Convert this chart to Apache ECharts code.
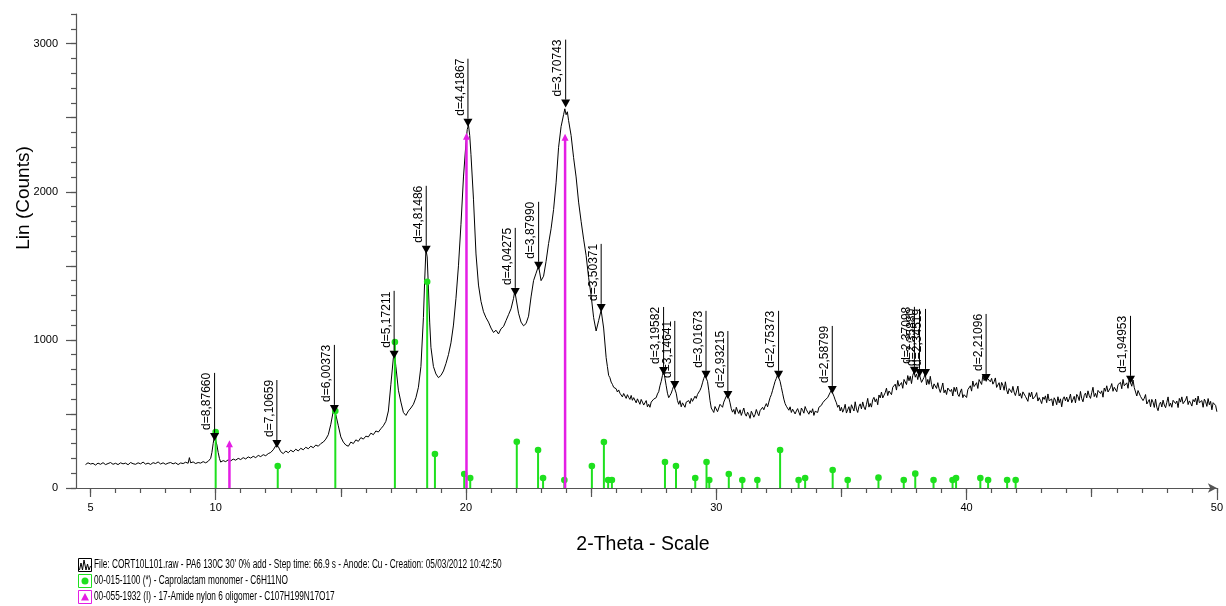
<!DOCTYPE html>
<html><head><meta charset="utf-8">
<script src="https://cdn.jsdelivr.net/npm/echarts@6/dist/echarts.min.js"></script>
<style>html,body{margin:0;padding:0;background:#fff}#c{width:1226px;height:606px}</style>
</head><body><div id="c"></div>
<script>
const scanA = [[4.8,158],[4.9,170],[5.0,162],[5.1,166],[5.2,155],[5.3,168],[5.4,160],[5.5,171],[5.6,158],[5.7,165],[5.8,172],[5.9,160],[6.0,167],[6.1,158],[6.2,170],[6.3,163],[6.4,168],[6.5,157],[6.6,172],[6.7,164],[6.8,160],[6.9,170],[7.0,163],[7.1,175],[7.2,161],[7.3,168],[7.4,159],[7.5,171],[7.6,165],[7.7,176],[7.8,162],[7.9,170],[8.0,160],[8.1,168],[8.2,172],[8.3,163],[8.4,170],[8.5,158],[8.6,169],[8.7,165],[8.8,174],[8.9,167],[8.95,205],[9.0,170],[9.1,176],[9.2,165],[9.3,172],[9.4,168],[9.5,178],[9.6,170],[9.7,180],[9.8,200],[9.85,240],[9.9,300],[9.95,352],[10.0,340],[10.05,290],[10.1,240],[10.15,200],[10.2,175],[10.3,185],[10.4,178],[10.5,190],[10.6,183],[10.7,195],[10.8,188],[10.9,200],[11.0,192],[11.1,205],[11.2,196],[11.3,210],[11.4,202],[11.5,214],[11.6,205],[11.7,220],[11.8,212],[11.9,225],[12.0,218],[12.1,232],[12.2,240],[12.3,258],[12.4,285],[12.45,292],[12.5,280],[12.6,245],[12.7,232],[12.8,250],[12.9,238],[13.0,255],[13.1,244],[13.2,262],[13.3,250],[13.4,268],[13.5,258],[13.6,275],[13.7,265],[13.8,282],[13.9,272],[14.0,290],[14.1,282],[14.2,300],[14.3,310],[14.4,330],[14.5,360],[14.6,430],[14.7,520],[14.75,530],[14.8,495],[14.9,420]];
const scanB = [[15.0,345],[15.1,310],[15.2,290],[15.3,282],[15.4,310],[15.5,300],[15.6,325],[15.7,315],[15.8,340],[15.9,330],[16.0,350],[16.1,345],[16.2,370],[16.3,360],[16.4,385],[16.5,378],[16.6,400],[16.7,420],[16.8,450],[16.9,520],[17.0,700],[17.1,880],[17.15,895],[17.2,820],[17.3,660],[17.4,580],[17.5,510],[17.6,490],[17.7,520],[17.8,540],[17.9,565],[18.0,610],[18.1,680],[18.2,820],[18.3,1150],[18.35,1400],[18.4,1610],[18.45,1560],[18.5,1350],[18.55,1120],[18.6,950],[18.7,820],[18.8,770],[18.9,745],[19.0,760],[19.1,790],[19.2,840],[19.3,900],[19.4,980],[19.5,1100],[19.6,1280],[19.7,1500],[19.8,1780],[19.9,2100],[20.0,2330],[20.05,2420],[20.1,2450],[20.15,2380],[20.2,2250],[20.3,1950],[20.4,1580],[20.5,1370],[20.6,1260],[20.7,1190],[20.8,1150],[20.9,1120],[21.0,1080],[21.1,1050],[21.2,1065],[21.3,1040],[21.4,1075],[21.5,1090],[21.6,1130],[21.7,1170],[21.8,1210],[21.9,1280],[21.95,1330],[22.0,1320],[22.1,1180],[22.2,1120],[22.3,1095],[22.4,1110],[22.5,1160],[22.6,1290],[22.7,1400],[22.8,1450],[22.9,1500],[23.0,1400],[23.1,1430],[23.2,1530],[23.3,1650],[23.4,1750],[23.5,1880],[23.6,2060],[23.7,2300],[23.8,2440],[23.9,2520],[23.95,2560],[24.0,2520],[24.05,2540],[24.1,2480],[24.2,2380],[24.3,2230],[24.4,2100],[24.5,1930],[24.6,1800],[24.7,1680],[24.8,1570],[24.9,1420]];
const scanC = [[25.0,1300],[25.1,1150],[25.2,1060],[25.3,1130],[25.4,1200],[25.5,1080],[25.6,880],[25.65,820],[25.7,760],[25.75,745],[25.8,715],[25.85,700],[25.9,680],[25.95,690],[26.0,670],[26.05,648],[26.1,662],[26.15,640],[26.2,652],[26.25,615],[26.3,638],[26.35,625],[26.4,605],[26.45,630],[26.5,612],[26.55,598],[26.6,625],[26.65,592],[26.7,610],[26.75,600],[26.8,575],[26.85,602],[26.9,590],[26.95,565],[27.0,598],[27.05,580],[27.1,560],[27.15,575],[27.2,590],[27.25,548],[27.3,565],[27.35,545],[27.4,580],[27.45,570],[27.5,600],[27.55,590],[27.6,610],[27.65,635],[27.7,650],[27.75,690],[27.8,720],[27.85,760],[27.9,790],[27.95,740],[28.0,690],[28.05,640],[28.1,610],[28.15,625],[28.2,640],[28.25,665],[28.3,690],[28.35,680],[28.4,640],[28.45,590],[28.5,565],[28.55,590],[28.6,548],[28.65,575],[28.7,560],[28.75,545],[28.8,580],[28.85,568],[28.9,590],[28.95,570],[29.0,605],[29.05,585],[29.1,598],[29.15,620],[29.2,605],[29.25,632],[29.3,640],[29.35,660],[29.4,680],[29.45,710],[29.5,740],[29.55,760],[29.6,765],[29.65,720],[29.7,660],[29.75,590],[29.8,540],[29.85,525],[29.9,510],[29.95,550],[30.0,545],[30.05,515],[30.1,525],[30.15,565],[30.2,560],[30.25,545],[30.3,580],[30.35,600],[30.4,620],[30.45,630],[30.5,610],[30.55,575],[30.6,535],[30.65,512],[30.7,530],[30.75,498],[30.8,545],[30.85,520],[30.9,503],[30.95,528],[31.0,490],[31.05,515],[31.1,540],[31.15,500],[31.2,485],[31.25,512],[31.3,495],[31.35,470],[31.4,518],[31.45,500],[31.5,478],[31.55,496],[31.6,530],[31.65,505],[31.7,488],[31.75,522],[31.8,515],[31.85,545],[31.9,528],[31.95,552],[32.0,570],[32.05,548],[32.1,580],[32.15,610],[32.2,630],[32.25,660],[32.3,690],[32.35,720],[32.4,740],[32.45,765],[32.5,765],[32.55,720],[32.6,680],[32.65,640],[32.7,600],[32.75,570],[32.8,552],[32.85,540],[32.9,525],[32.95,548],[33.0,510],[33.05,532],[33.1,545],[33.15,500],[33.2,520],[33.25,536],[33.3,512],[33.35,490],[33.4,540],[33.45,525],[33.5,505],[33.55,550],[33.6,528],[33.65,540],[33.7,498],[33.75,522],[33.8,508],[33.85,535],[33.9,490],[33.95,518],[34.0,530],[34.05,510],[34.1,545],[34.15,535],[34.2,558],[34.25,575],[34.3,565],[34.35,595],[34.4,590],[34.45,610],[34.5,620],[34.55,645],[34.6,660],[34.65,650],[34.7,620],[34.75,595],[34.8,575],[34.85,545],[34.9,560],[34.95,520]];
const scanD = [[35.0,545],[35.05,512],[35.1,533],[35.15,565],[35.2,506],[35.25,528],[35.3,549],[35.35,506],[35.4,562],[35.45,549],[35.5,520],[35.55,582],[35.6,533],[35.65,510],[35.7,551],[35.75,568],[35.8,534],[35.85,581],[35.9,547],[35.95,529],[36.0,565],[36.05,605],[36.1,546],[36.15,571],[36.2,546],[36.25,596],[36.3,612],[36.35,582],[36.4,602],[36.45,562],[36.5,628],[36.55,608],[36.6,648],[36.65,608],[36.7,604],[36.75,644],[36.8,674],[36.85,624],[36.9,655],[36.95,645],[37.0,630],[37.05,680],[37.1,671],[37.15,701],[37.2,661],[37.25,726],[37.3,687],[37.35,682],[37.4,712],[37.45,673],[37.5,733],[37.55,723],[37.6,698],[37.65,759],[37.7,724],[37.75,754],[37.8,705],[37.85,760],[37.9,785],[37.95,748],[38.0,770],[38.05,732],[38.1,775],[38.15,776],[38.2,713],[38.25,730],[38.3,747],[38.35,774],[38.4,696],[38.45,733],[38.5,700],[38.55,754],[38.6,699],[38.65,668],[38.7,703],[38.75,712],[38.8,672],[38.85,711],[38.9,671],[38.95,645],[39.0,675],[39.05,709],[39.1,643],[39.15,662],[39.2,631],[39.25,675],[39.3,688],[39.35,652],[39.4,666],[39.45,621],[39.5,680],[39.55,651],[39.6,681],[39.65,632],[39.7,618],[39.75,648],[39.8,669],[39.85,610],[39.9,630],[39.95,623],[40.0,611],[40.05,664],[40.1,657],[40.15,690],[40.2,654],[40.25,722],[40.3,685],[40.35,681],[40.4,711],[40.45,672],[40.5,732],[40.55,723],[40.6,699],[40.65,759],[40.7,725],[40.75,747],[40.8,735],[40.85,737],[40.9,750],[40.95,717],[41.0,740],[41.05,701],[41.1,717],[41.15,743],[41.2,679],[41.25,695],[41.3,711],[41.35,662],[41.4,713],[41.45,694],[41.5,660],[41.55,717],[41.6,663],[41.65,635],[41.7,671],[41.75,683],[41.8,644],[41.85,686],[41.9,647],[41.95,624],[42.0,655],[42.05,688],[42.1,621],[42.15,638],[42.2,606],[42.25,649],[42.3,657],[42.35,619],[42.4,632],[42.45,585],[42.5,643],[42.55,615],[42.6,648],[42.65,601],[42.7,589],[42.75,621],[42.8,644],[42.85,587],[42.9,610],[42.95,592],[43.0,570],[43.05,614],[43.1,598],[43.15,622],[43.2,576],[43.25,635],[43.3,589],[43.35,577],[43.4,601],[43.45,555],[43.5,609],[43.55,593],[43.6,562],[43.65,616],[43.7,575],[43.75,602],[43.8,548],[43.85,600],[43.9,616],[43.95,588],[44.0,614],[44.05,581],[44.1,602],[44.15,634],[44.2,576],[44.25,597],[44.3,619],[44.35,575],[44.4,632],[44.45,618],[44.5,590],[44.55,652],[44.6,604],[44.65,582],[44.7,624],[44.75,641],[44.8,608],[44.85,656],[44.9,623],[44.95,605],[45.0,643],[45.05,680],[45.1,617],[45.15,639],[45.2,611],[45.25,659],[45.3,671],[45.35,638],[45.4,656],[45.45,613],[45.5,675],[45.55,653],[45.6,690],[45.65,648],[45.7,640],[45.75,678],[45.8,705],[45.85,653],[45.9,680],[45.95,668],[46.0,650],[46.05,698],[46.1,685],[46.15,713],[46.2,670],[46.25,733],[46.3,690],[46.35,683],[46.4,710],[46.45,673],[46.5,737],[46.55,730],[46.6,687],[46.65,729],[46.7,677],[46.75,689],[46.8,621],[46.85,658],[46.9,661],[46.95,618],[47.0,630],[47.05,590],[47.1,606],[47.15,631],[47.2,567],[47.25,582],[47.3,597],[47.35,548],[47.4,598],[47.45,579],[47.5,544],[47.55,600],[47.6,545],[47.65,522],[47.7,563],[47.75,580],[47.8,547],[47.85,593],[47.9,560],[47.95,542],[48.0,578],[48.05,615],[48.1,552],[48.15,573],[48.2,545],[48.25,592],[48.3,603],[48.35,570],[48.4,587],[48.45,543],[48.5,605],[48.55,580],[48.6,615],[48.65,569],[48.7,559],[48.75,594],[48.8,619],[48.85,563],[48.9,588],[48.95,573],[49.0,553],[49.05,597],[49.1,582],[49.15,607],[49.2,561],[49.25,621],[49.3,576],[49.35,566],[49.4,590],[49.45,545],[49.5,600],[49.55,583],[49.6,551],[49.65,604],[49.7,562],[49.75,585],[49.8,528],[49.85,576],[49.9,589],[49.95,557],[50.0,515]];

// ---- reference pattern 00-015-1100 (Caprolactam monomer) ----
const capTheta  = [10.00,12.48,14.78,17.16,18.45,18.76,19.93,20.17,22.03,22.88,23.08,23.93,25.03,25.51,25.68,25.83,27.95,28.39,29.16,29.61,29.72,30.50,31.04,31.64,32.55,33.29,33.55,34.65,35.25,36.48,37.49,37.95,38.68,39.44,39.58,40.55,40.86,41.62,41.96];
const capCounts = [378,149,520,986,1392,230,95,68,312,257,68,54,149,311,54,54,176,149,68,176,54,95,54,54,257,54,68,122,54,70,54,97,54,54,68,68,54,54,54];

// ---- reference pattern 00-055-1932 (17-Amide nylon 6 oligomer) ----
const oligoTheta  = [10.55,20.02,23.96];
const oligoCounts = [296,2372,2365];

// ---- peak markers (d-spacings) ----
const peakTheta  = [9.957,12.445,14.743,17.130,18.412,20.079,21.969,22.902,23.983,25.401,27.895,28.342,29.590,30.463,32.489,34.634,37.916,38.12,38.36,40.78,46.55];
const peakCounts = [345,297,534,899,1608,2466,1324,1500,2595,1216,790,696,764,628,764,662,791,777,777,743,730];
const peakLabels = ["d=8,87660","d=7,10659","d=6,00373","d=5,17211","d=4,81486","d=4,41867","d=4,04275","d=3,87990","d=3,70743","d=3,50371","d=3,19582","d=3,14641","d=3,01673","d=2,93215","d=2,75373","d=2,58799","d=2,37098","d=2,35880","d=2,34519","d=2,21096","d=1,94953"];

// ---- axis ticks / labels ----
const xTickMinor = [5,6,7,8,9,10,11,12,13,14,15,16,17,18,19,20,21,22,23,24,25,26,27,28,29,30,31,32,33,34,35,36,37,38,39,40,41,42,43,44,45,46,47,48,49,50];
const xTickMid   = [5,15,25,35,45];
const xTickMajor = [10,20,30,40,50];
const xLabels    = [5,10,20,30,40,50];
const yTickMinor = [0,100,200,300,400,500,600,700,800,900,1000,1100,1200,1300,1400,1500,1600,1700,1800,1900,2000,2100,2200,2300,2400,2500,2600,2700,2800,2900,3000,3100,3200];
const yTickMajor = [0,500,1000,1500,2000,2500,3000];
const yLabels    = [0,1000,2000,3000];

const legendRows = [
  "File: CORT10L101.raw - PA6 130C 30' 0% add - Step time: 66.9 s - Anode: Cu - Creation: 05/03/2012 10:42:50",
  "00-015-1100 (*) - Caprolactam monomer - C6H11NO",
  "00-055-1932 (I) - 17-Amide nylon 6 oligomer - C107H199N17O17"
];

const FONT = '"Liberation Sans", Arial, sans-serif';
const AX = '#555';
const GREEN = '#1ee01e';
const MAGENTA = '#e41ee4';

const scan = scanA.concat(scanB, scanC, scanD);

function xAx(ticks, len, labels, showLine) {
  return {
    type: 'value', min: 4.42, max: 50, position: 'bottom', gridIndex: 0,
    axisLine: showLine ? {show: true, lineStyle: {color: AX, width: 1.2}, symbol: ['none', 'arrow'], symbolSize: [7, 9]} : {show: false},
    axisTick: {show: true, customValues: ticks, length: len, lineStyle: {color: AX, width: 1.2}},
    axisLabel: labels ? {show: true, customValues: labels, color: '#000', fontSize: 11, fontFamily: FONT, margin: 14, formatter: v => String(v)} : {show: false},
    splitLine: {show: false}
  };
}
function yAx(ticks, len, labels, showLine) {
  return {
    type: 'value', min: 0, max: 3200, position: 'left', gridIndex: 0,
    axisLine: showLine ? {show: true, lineStyle: {color: AX, width: 1.2}} : {show: false},
    axisTick: {show: true, customValues: ticks, length: len, lineStyle: {color: AX, width: 1.2}},
    axisLabel: labels ? {show: true, customValues: labels, color: '#000', fontSize: 11, fontFamily: FONT, margin: 18, formatter: v => String(v)} : {show: false},
    splitLine: {show: false}
  };
}

function legendText(txt, y) {
  return {type: 'text', x: 94, y: y, scaleX: 0.69, scaleY: 1,
          style: {text: txt, fontSize: 12, fontFamily: FONT, fill: '#000', verticalAlign: 'middle'}};
}

const chart = echarts.init(document.getElementById('c'), null, {renderer: 'canvas'});
chart.setOption({
  animation: false,
  backgroundColor: '#fff',
  grid: {left: 76, right: 4, top: 14, bottom: 118, containLabel: false},
  xAxis: [xAx(xTickMinor, 5, xLabels, true), xAx(xTickMid, 9, null, false), xAx(xTickMajor, 12, null, false)],
  yAxis: [yAx(yTickMinor, 5, yLabels, true), yAx(yTickMajor, 10, null, false)],
  series: [
    {
      type: 'line', data: scan, xAxisIndex: 0, yAxisIndex: 0,
      showSymbol: false, symbol: 'none', lineStyle: {color: '#000', width: 1}, z: 2
    },
    {
      type: 'custom', xAxisIndex: 0, yAxisIndex: 0, z: 3,
      data: capTheta.map((t, i) => [t, capCounts[i]]),
      renderItem: function (params, api) {
        const base = api.coord([api.value(0), 0]);
        const top = api.coord([api.value(0), api.value(1)]);
        return {type: 'group', children: [
          {type: 'line', shape: {x1: base[0], y1: base[1], x2: top[0], y2: top[1]}, style: {stroke: GREEN, lineWidth: 2}},
          {type: 'circle', shape: {cx: top[0], cy: top[1], r: 3.3}, style: {fill: GREEN}}
        ]};
      }
    },
    {
      type: 'custom', xAxisIndex: 0, yAxisIndex: 0, z: 4,
      data: oligoTheta.map((t, i) => [t, oligoCounts[i]]),
      renderItem: function (params, api) {
        const base = api.coord([api.value(0), 0]);
        const top = api.coord([api.value(0), api.value(1)]);
        return {type: 'group', children: [
          {type: 'line', shape: {x1: base[0], y1: base[1], x2: top[0], y2: top[1]}, style: {stroke: MAGENTA, lineWidth: 2.5}},
          {type: 'polygon', shape: {points: [[top[0] - 3.5, top[1] + 3], [top[0] + 3.5, top[1] + 3], [top[0], top[1] - 4]]}, style: {fill: MAGENTA}}
        ]};
      }
    },
    {
      type: 'custom', xAxisIndex: 0, yAxisIndex: 0, z: 5,
      data: peakTheta.map((t, i) => [t, peakCounts[i]]),
      renderItem: function (params, api) {
        const p = api.coord([api.value(0), api.value(1)]);
        const x = p[0], y = p[1];
        return {type: 'group', children: [
          {type: 'polygon', shape: {points: [[x - 4.5, y - 4], [x + 4.5, y - 4], [x, y + 4]]}, style: {fill: '#000'}},
          {type: 'line', shape: {x1: x, y1: y - 4, x2: x, y2: y - 64}, style: {stroke: '#000', lineWidth: 1}},
          {type: 'text', x: x - 1.5, y: y - 7, rotation: Math.PI / 2,
           style: {text: peakLabels[params.dataIndex], fontSize: 12, fontFamily: FONT, fill: '#000', align: 'left', verticalAlign: 'bottom'}}
        ]};
      }
    }
  ],
  graphic: [
    {type: 'text', x: 24, y: 198, rotation: Math.PI / 2,
     style: {text: 'Lin (Counts)', fontSize: 19, fontFamily: FONT, fill: '#000', align: 'center', verticalAlign: 'middle'}},
    {type: 'text', x: 643, y: 545,
     style: {text: '2-Theta - Scale', fontSize: 19.5, fontFamily: FONT, fill: '#000', align: 'center', verticalAlign: 'middle'}},
    // legend row 1
    {type: 'rect', shape: {x: 78.5, y: 558.5, width: 13, height: 13}, style: {fill: '#fff', stroke: '#000', lineWidth: 1}},
    {type: 'polyline', shape: {points: [[79.5, 570], [81, 563], [82.5, 570], [84, 560], [86, 570], [87.5, 564], [89, 570], [90.5, 566]]}, style: {stroke: '#000', fill: null, lineWidth: 1}},
    legendText(legendRows[0], 565),
    // legend row 2
    {type: 'rect', shape: {x: 78.5, y: 574.5, width: 13, height: 13}, style: {fill: '#fff', stroke: GREEN, lineWidth: 1}},
    {type: 'circle', shape: {cx: 85, cy: 581, r: 3.5}, style: {fill: GREEN}},
    legendText(legendRows[1], 581),
    // legend row 3
    {type: 'rect', shape: {x: 78.5, y: 590.5, width: 13, height: 13}, style: {fill: '#fff', stroke: MAGENTA, lineWidth: 1}},
    {type: 'polygon', shape: {points: [[81, 600.5], [89, 600.5], [85, 593]]}, style: {fill: MAGENTA}},
    legendText(legendRows[2], 597)
  ]
});
</script>
</body></html>
